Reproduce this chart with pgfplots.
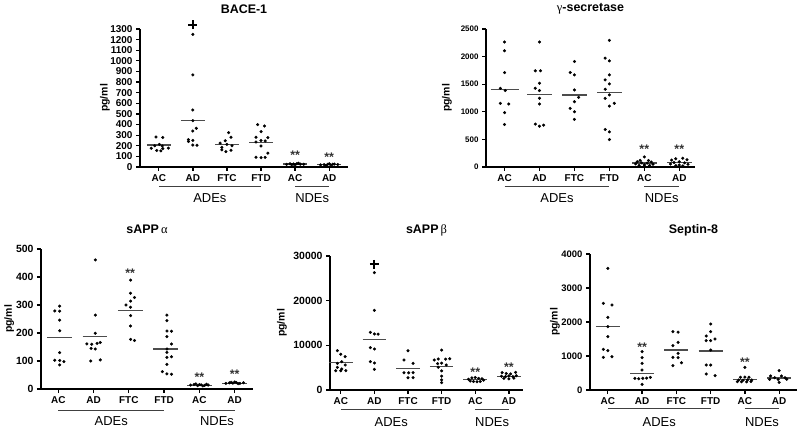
\documentclass[border=0pt]{standalone}
\usepackage{fontspec}
\setmainfont{Liberation Sans}
\newfontfamily\grk{Liberation Serif}
\usepackage{pgfplots}
\pgfplotsset{compat=1.18}
\pgfplotsset{
 panel/.style={
   scale only axis, axis lines=left, axis line style={-, line width=1.6bp, black},
   tick pos=left, tick align=outside, major tick length=4bp,
   every tick/.style={black, line width=1.3bp},
   xtick={0,...,5}, xticklabels={AC,AD,FTC,FTD,AC,AD},
   ymin=0, clip=false,
   /pgf/number format/assume math mode=true,
   /pgf/number format/set thousands separator={},
   scaled y ticks=false,
   xticklabel style={font=\bfseries\fontsize{10}{11}\selectfont},
   ylabel={pg/ml},
   ylabel style={font=\bfseries\fontsize{10.5}{12}\selectfont, anchor=center},
   title style={font=\bfseries\fontsize{12.5}{14}\selectfont, anchor=center, at={(0.5,1)}},
 },
 dots/.style={only marks, mark=*, mark size=1.35bp, black, mark options={draw=black, fill=black}},
 mean/.style={no marks, black!70, line width=1.1bp},
 plus/.style={only marks, mark=+, mark size=4.5bp, black, mark options={line width=1.8bp}},
}
\newcommand{\groups}[2]{%
 \draw[black!75, line width=1bp] ([yshift=-#1]axis cs:0,0) -- ([yshift=-#1]axis cs:3,0);
 \draw[black!75, line width=1bp] ([yshift=-#1]axis cs:4,0) -- ([yshift=-#1]axis cs:5,0);
 \node[font=\fontsize{13}{14}\selectfont] at ([yshift=-#2]axis cs:1.5,0) {ADEs};
 \node[font=\fontsize{13}{14}\selectfont] at ([yshift=-#2]axis cs:4.5,0) {NDEs};
}
\newcommand{\stars}[2]{\node[font=\bfseries\fontsize{12.5}{13}\selectfont, black!80] at ([yshift=-2.5bp]axis cs:#1,#2) {**};}
\newcommand{\meanline}[3][0.35]{\addplot[mean] coordinates {(#2-#1,#3) (#2+#1,#3)};}

\begin{document}
\begin{tikzpicture}
\useasboundingbox (0bp,0bp) rectangle (800bp,429bp);

% ---------------- BACE-1
\begin{axis}[panel, at={(140bp,262bp)}, anchor=south west, width=208bp, height=138bp,
  xmin=-0.55, xmax=5.55, ymax=1300, ytick={0,100,...,1300},
  yticklabel style={font=\bfseries\fontsize{10}{10}\selectfont},
  title={BACE-1}, title style={yshift=14bp},
  ylabel style={at={(axis description cs:-0.168,0.5)}}]
\addplot[dots] coordinates {(-0.08,282) (0.12,278) (0.02,213) (-0.12,200) (0.1,198) (-0.22,176) (0.12,174) (0.28,178) (-0.06,156) (0.06,152)};
\addplot[dots] coordinates {(1,1250) (1,867) (1,537) (1,436) (1.1,364) (1,339) (0.87,258) (1,250) (0.87,240) (1,207) (1.12,205)};
\addplot[dots] coordinates {(2.05,323) (2.12,280) (1.95,248) (1.8,225) (2,213) (2.15,200) (1.85,185) (1.85,162) (2.12,158) (1.97,145)};
\addplot[dots] coordinates {(2.9,400) (3.1,386) (3,333) (2.85,280) (3.2,276) (3,250) (3.12,245) (2.85,235) (3,198) (3.2,130) (2.85,92) (3,88) (3.12,90)};
\addplot[dots] coordinates {(3.75,25) (3.85,30) (3.95,28) (4.05,32) (4.15,27) (4.25,26) (3.9,22) (4.1,35) (4,20)};
\addplot[dots] coordinates {(4.75,20) (4.85,22) (4.95,25) (5.05,18) (5.15,28) (5.25,24) (5,30) (4.9,15) (5.1,26)};
\meanline{0}{207}\meanline{1}{436}\meanline{2}{213}\meanline{3}{232}\meanline{4}{28}\meanline{5}{22}
\addplot[plus] coordinates {(1,1338)};
\stars{4}{132}\stars{5}{115}
\groups{20bp}{31bp}
\end{axis}

% ---------------- gamma-secretase
\begin{axis}[panel, at={(486bp,262bp)}, anchor=south west, width=209bp, height=138bp,
  xmin=-0.53, xmax=5.45, ymax=2500, ytick={0,500,...,2500},
  yticklabel style={font=\bfseries\fontsize{8}{9}\selectfont},
  title={{\grk\mdseries γ}-secretase}, title style={yshift=14bp},
  ylabel style={at={(axis description cs:-0.187,0.5)}}]
\addplot[dots] coordinates {(0,2265) (0,2105) (0,1710) (-0.12,1425) (0.02,1385) (-0.12,1153) (0.12,1140) (0,985) (0,771)};
\addplot[dots] coordinates {(1,2263) (0.88,1742) (1.03,1742) (1,1517) (0.88,1426) (1,1384) (1,1244) (1,1141) (0.88,777) (1,740) (1.12,758)};
\addplot[dots] coordinates {(2,1911) (1.88,1711) (2,1669) (2,1396) (2.12,1262) (2,1183) (1.88,1062) (2,1001) (2,862)};
\addplot[dots] coordinates {(3,2294) (2.88,1972) (3,1924) (3,1669) (2.88,1578) (3,1505) (2.88,1408) (3,1305) (2.88,1244) (3.14,1153) (3,1104) (2.88,680) (3,637) (3,498)};
\addplot[dots] coordinates {(4,182) (3.88,120) (4.12,118) (3.8,95) (4.2,90) (3.92,75) (4.08,70) (3.75,55) (4.25,50) (4,40) (3.85,30) (4.15,28) (4,15)};
\addplot[dots] coordinates {(4.9,150) (5.1,160) (5.22,130) (4.78,125) (5,95) (4.85,80) (5.15,75) (4.75,55) (5.25,50) (5,35) (4.9,25) (5.1,20)};
\meanline[0.4]{0}{1408}\meanline{1}{1317}\meanline{2}{1305}\meanline{3}{1353}\meanline{4}{73}\meanline{5}{79}
\stars{4}{376}\stars{5}{376}
\groups{20bp}{31bp}
\end{axis}

% ---------------- sAPP alpha
\begin{axis}[panel, at={(41bp,40bp)}, anchor=south west, width=212bp, height=140bp,
  xmin=-0.49, xmax=5.52, ymax=500, ytick={0,100,...,500},
  yticklabel style={font=\bfseries\fontsize{10.5}{11}\selectfont},
  title={sAPP\,{\grk\mdseries α}}, title style={yshift=14bp},
  ylabel style={at={(axis description cs:-0.15,0.5)}}]
\addplot[dots] coordinates {(0.04,296) (-0.1,279) (0.04,278) (0.04,246) (0.04,208) (0.04,130) (-0.1,103) (0.04,102) (0.16,98) (0.04,86)};
\addplot[dots] coordinates {(1.05,461) (1.05,264) (1.05,199) (0.81,161) (0.95,160) (1.1,163) (1.19,166) (0.93,145) (1.05,143) (0.92,100) (1.19,104)};
\addplot[dots] coordinates {(2.05,389) (2.05,342) (2.16,327) (2.05,314) (1.92,300) (2.05,292) (2.05,262) (2.05,225) (2.05,177) (2.16,173)};
\addplot[dots] coordinates {(3.08,264) (3.08,244) (3.08,207) (3.21,206) (3.08,187) (3.21,161) (3.08,143) (3.08,131) (3.21,115) (3.08,113) (3.08,88) (2.95,62) (3.08,54) (3.21,53)};
\addplot[dots] coordinates {(3.75,14) (3.85,16) (3.95,12) (4.05,15) (4.15,13) (4.25,14) (3.9,18) (4.1,11) (4,16) (4.2,17)};
\addplot[dots] coordinates {(4.75,20) (4.85,22) (4.95,21) (5.05,23) (5.15,20) (5.25,22) (4.9,24) (5.1,19) (5,25)};
\meanline{0.04}{183}\meanline{1.04}{187}\meanline{2.04}{280}\meanline{3.04}{143}\meanline{4}{13}\meanline{5}{20}
\stars{2.04}{422}\stars{4}{52}\stars{5}{60}
\groups{21bp}{32bp}
\end{axis}

% ---------------- sAPP beta
\begin{axis}[panel, at={(330bp,39bp)}, anchor=south west, width=193bp, height=134bp,
  xmin=-0.32, xmax=5.42, ymax=30000, ytick={0,10000,20000,30000},
  yticklabel style={font=\bfseries\fontsize{10.5}{11}\selectfont},
  title={sAPP\,{\grk\mdseries β}}, title style={yshift=20bp},
  ylabel style={at={(axis description cs:-0.249,0.5)}}]
\addplot[dots] coordinates {(-0.1,8806) (0,7985) (0.13,7463) (0.03,6344) (-0.1,5970) (0.13,5597) (-0.1,5075) (0.03,4702) (-0.15,4328) (0,4328) (0.15,4328)};
\addplot[dots] coordinates {(1,26270) (1,17840) (0.88,12910) (1,12540) (1.11,12500) (0.88,9478) (1,9180) (0.88,6344) (1,6045) (1,4627)};
\addplot[dots] coordinates {(2,8806) (1.88,6717) (2.15,5970) (1.88,3881) (2.02,3850) (2.15,3881) (2,2761) (2.15,2761)};
\addplot[dots] coordinates {(3,8950) (2.78,6700) (2.9,6950) (3.12,6900) (3.24,7000) (2.88,5900) (3,6000) (3.14,5600) (2.9,5100) (3,4300) (3,3100) (3,2250) (3,1650)};
\addplot[dots] coordinates {(3.8,2400) (3.9,2700) (4,2800) (4.1,2600) (4.2,2500) (3.85,2000) (3.95,1900) (4.05,1850) (4.15,1900) (4.25,2200)};
\addplot[dots] coordinates {(4.8,3900) (4.92,3700) (5.05,3600) (5.2,3950) (4.78,3100) (4.9,3000) (5,3150) (5.12,3000) (5.22,3200) (4.85,2600) (5,2500) (5.15,2650)};
\meanline{0}{6120}\meanline{1}{11340}\meanline{2}{4851}\meanline{3}{5224}\meanline{4}{2388}\meanline{5}{2985}
\addplot[plus] coordinates {(1,28135)};
\stars{4}{4627}\stars{5}{5597}
\groups{19bp}{32bp}
\end{axis}

% ---------------- Septin-8
\begin{axis}[panel, at={(590bp,39bp)}, anchor=south west, width=207bp, height=136bp,
  xmin=-0.52, xmax=5.52, ymax=4000, ytick={0,1000,...,4000},
  yticklabel style={font=\bfseries\fontsize{9.5}{10}\selectfont},
  title={Septin-8}, title style={yshift=18bp},
  ylabel style={at={(axis description cs:-0.169,0.5)}}]
\addplot[dots] coordinates {(0,3578) (-0.13,2549) (0.12,2500) (0,2137) (0,1863) (0,1569) (-0.13,1196) (0,1157) (-0.13,961) (0.12,980)};
\addplot[dots] coordinates {(1,1127) (1,951) (1,784) (1,588) (0.79,343) (0.9,330) (1.02,343) (1.13,350) (1.24,370) (1,167)};
\addplot[dots] coordinates {(1.9,1716) (2.05,1700) (2.05,1402) (1.9,1304) (2.05,1078) (1.9,961) (2.05,950) (2.15,804) (1.9,716)};
\addplot[dots] coordinates {(3,1941) (3,1716) (2.87,1588) (3.13,1500) (2.87,1451) (3,1450) (3,1176) (2.87,735) (3,735) (2.87,471) (3.13,422)};
\addplot[dots] coordinates {(4,667) (3.87,373) (4,380) (4.12,373) (3.82,294) (3.95,290) (4.08,300) (4.2,294) (3.78,245) (3.9,245) (4.05,240) (4.18,250)};
\addplot[dots] coordinates {(5,569) (4.75,412) (5.07,412) (4.87,363) (5.17,363) (4.72,314) (4.97,314) (5.22,314) (5,225)};
\meanline{0}{1863}\meanline{1}{490}\meanline{2}{1176}\meanline{3}{1147}\meanline{4}{314}\meanline{5}{353}
\stars{1}{1343}\stars{4}{882}
\groups{18bp}{32bp}
\end{axis}
\end{tikzpicture}
\end{document}
